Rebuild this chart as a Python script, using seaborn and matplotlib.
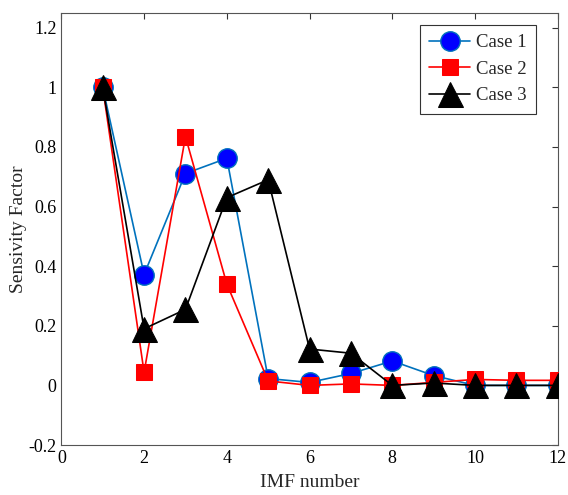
import matplotlib
matplotlib.use("Agg")
import matplotlib.pyplot as plt
import seaborn as sns
import pandas as pd

imf = [1, 2, 3, 4, 5, 6, 7, 8, 9, 10, 11, 12]
case1 = [1.0, 0.372, 0.711, 0.762, 0.023, 0.010, 0.040, 0.082, 0.033, 0.000, 0.000, 0.000]
case2 = [1.0, 0.044, 0.835, 0.340, 0.015, 0.000, 0.005, 0.000, 0.010, 0.020, 0.017, 0.017]
case3 = [1.0, 0.190, 0.255, 0.630, 0.690, 0.122, 0.108, 0.000, 0.008, 0.000, 0.000, 0.000]
labels = ["Case 1", "Case 2", "Case 3"]

sns.set_style("white")
plt.rcParams["font.family"] = ["Liberation Serif", "DejaVu Serif"]

fig = plt.figure(figsize=(5.68, 4.95), dpi=100)
ax = fig.add_axes([0.108, 0.101, 0.874, 0.873])

sns.lineplot(x=imf, y=case1, ax=ax, color="#0072BD", lw=1.2, marker="o", markersize=14,
             markerfacecolor="#0000FF", markeredgecolor="#0072BD", markeredgewidth=1.0,
             label=labels[0], zorder=3)
sns.lineplot(x=imf, y=case2, ax=ax, color="#FF0000", lw=1.2, marker="s", markersize=11,
             markerfacecolor="#FF0000", markeredgecolor="#FF0000",
             label=labels[1], zorder=4)
sns.lineplot(x=imf, y=case3, ax=ax, color="black", lw=1.2, marker="^", markersize=18,
             markerfacecolor="black", markeredgecolor="black",
             label=labels[2], zorder=5)

ax.set_xlim(0, 12)
ax.set_ylim(-0.2, 1.25)
ax.set_xticks([0, 2, 4, 6, 8, 10, 12])
ax.set_yticks([-0.2, 0, 0.2, 0.4, 0.6, 0.8, 1.0, 1.2])
ax.set_xticklabels(["0", "2", "4", "6", "8", "10", "12"])
ax.set_yticklabels(["-0.2", "0", "0.2", "0.4", "0.6", "0.8", "1", "1.2"])
ax.tick_params(direction="in", length=4, width=0.8, labelsize=13, top=True, right=True,
               colors="#333333", labelcolor="black")
ax.set_xlabel("IMF number", fontsize=14, labelpad=5)
ax.set_ylabel("Sensivity Factor", fontsize=14, labelpad=1)
for s in ax.spines.values():
    s.set_color("#555555")
    s.set_linewidth(0.8)

leg = ax.legend(loc="upper right", bbox_to_anchor=(0.956, 0.972), fontsize=13.5, fancybox=False,
                edgecolor="#333333", framealpha=1, handlelength=2.2, borderpad=0.5,
                labelspacing=0.5, handletextpad=0.3, borderaxespad=0)
leg.get_frame().set_linewidth(0.8)

fig.savefig("out.png", dpi=100)
